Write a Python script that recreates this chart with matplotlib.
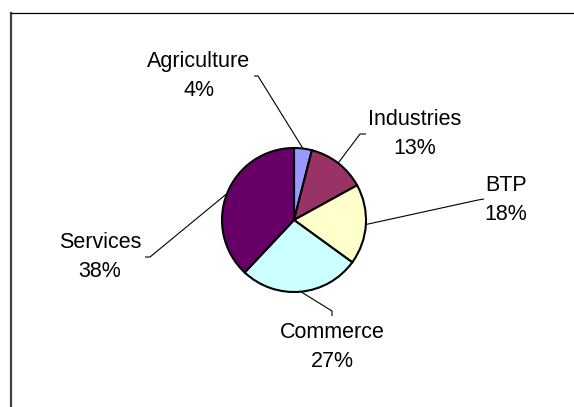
import numpy as np
import matplotlib.pyplot as plt

# data
sectors = ['Agriculture', 'Industries', 'BTP', 'Commerce', 'Services']
shares = [4, 13, 18, 27, 38]
colors = ['#9999FF', '#993366', '#FFFFCC', '#CCFFFF', '#660066']

W, H = 574, 407
cx, cy, r = 294, 220, 72

# label placement (pixels, y from top) and leader line elbows
label_pos = [(199, 76), (415, 134), (506, 200), (332, 347), (100, 257)]
elbows = [[(258, 76), (254, 76)],
          [(360, 134), (366, 134)],
          [(478, 200), (484, 199)],
          [(332, 311), (332, 316)],
          [(150, 257), (145, 257)]]

plt.rcParams['font.family'] = ['Liberation Sans', 'DejaVu Sans']

fig = plt.figure(figsize=(W / 100, H / 100), dpi=100)
ax = fig.add_axes([0, 0, 1, 1])
ax.set_xlim(0, W)
ax.set_ylim(0, H)
ax.set_aspect('equal')
ax.axis('off')

wedges, _ = ax.pie(shares, colors=colors, startangle=90, counterclock=False,
                   center=(cx, H - cy), radius=r,
                   wedgeprops=dict(edgecolor='black', linewidth=1.5))
ax.set_xlim(0, W)
ax.set_ylim(0, H)

for w, name, val, (lx, ly), pts in zip(wedges, sectors, shares, label_pos, elbows):
    mid = np.deg2rad((w.theta1 + w.theta2) / 2)
    ex = cx + r * np.cos(mid)
    ey = (H - cy) + r * np.sin(mid)
    xs = [ex] + [p[0] for p in pts]
    ys = [ey] + [H - p[1] for p in pts]
    ax.plot(xs, ys, color='black', linewidth=0.8, solid_capstyle='butt')
    ax.text(lx, H - ly, f'{name}\n{val}%', ha='center', va='center',
            fontsize=15.5, linespacing=1.45)

# chart frame (only top and left edges visible)
ax.plot([11, 11], [H - 12.5, 0], color='#404040', linewidth=1.6)
ax.plot([11, W], [H - 12.5, H - 12.5], color='black', linewidth=0.9)

fig.savefig('out.png', dpi=100)
